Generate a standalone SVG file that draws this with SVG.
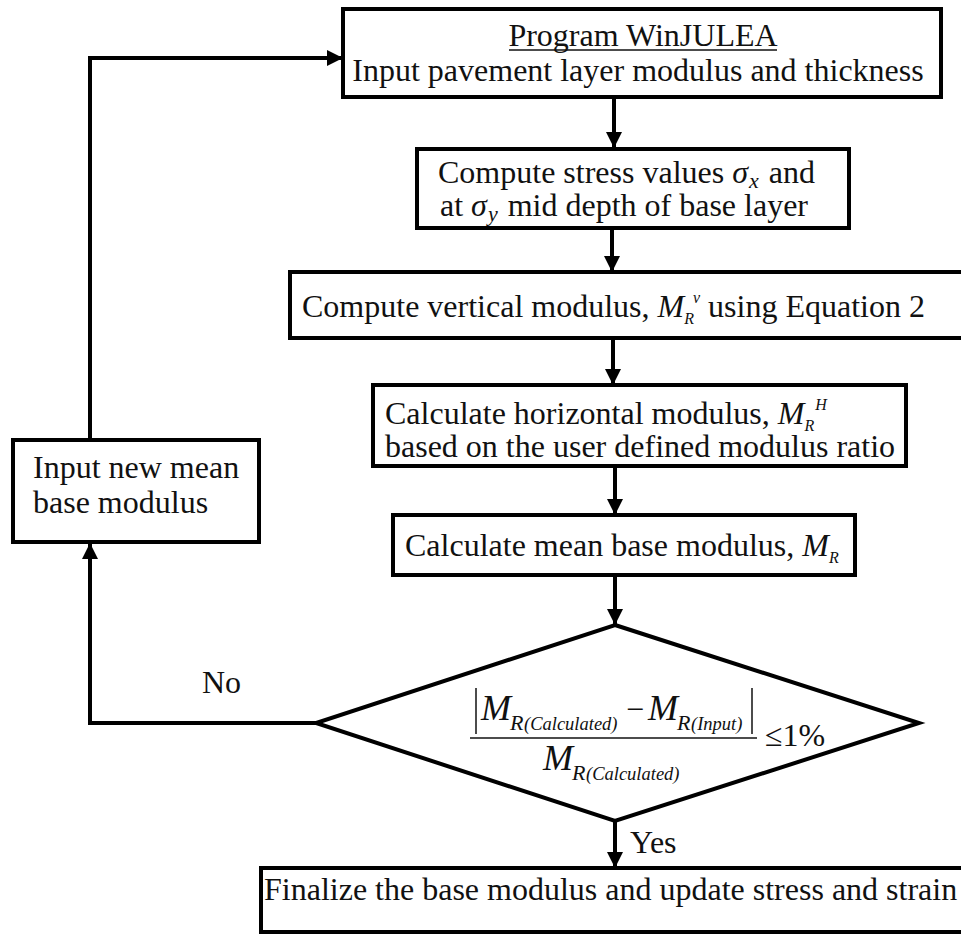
<svg xmlns="http://www.w3.org/2000/svg" width="961" height="935" viewBox="0 0 961 935" font-family="'Liberation Serif', 'Times New Roman', serif">
  <style>
    .box { fill: #fff; stroke: #000; stroke-width: 4; }
    .wire { fill: none; stroke: #000; stroke-width: 4; }
    .rule { stroke: #111; stroke-width: 1.5; }
    text { font-family: "Liberation Serif", "Times New Roman", serif; font-size: 32px; fill: #111; }
    .c { text-anchor: middle; }
    .m { font-style: italic; }
    .big { font-size: 36px; font-style: italic; }
    .sub { font-size: 22px; font-style: italic; }
    .r { font-size: 22px; font-style: italic; }
    .tag { font-size: 18.5px; font-style: italic; }
    .sm { font-size: 16px; font-style: italic; }
  </style>
  <defs>
    <marker id="arrow" viewBox="0 0 10 10" refX="10" refY="5" markerWidth="4" markerHeight="4" markerUnits="strokeWidth" orient="auto">
      <path d="M0,0 L10,5 L0,10 z" fill="#000"/>
    </marker>
  </defs>

  <rect width="961" height="935" fill="#fff"/>

  <g id="connectors">
    <line class="wire" x1="614" y1="97" x2="614" y2="148" marker-end="url(#arrow)"/>
    <line class="wire" x1="612" y1="228" x2="612" y2="272" marker-end="url(#arrow)"/>
    <line class="wire" x1="613" y1="338" x2="613" y2="385" marker-end="url(#arrow)"/>
    <line class="wire" x1="615" y1="466" x2="615" y2="515" marker-end="url(#arrow)"/>
    <line class="wire" x1="615" y1="575" x2="615" y2="625" marker-end="url(#arrow)"/>
    <line class="wire" x1="615" y1="821" x2="615" y2="868" marker-end="url(#arrow)"/>
    <polyline class="wire" points="316,723 90,723 90,543" marker-end="url(#arrow)"/>
    <polyline class="wire" points="90,440 90,58 343,58" marker-end="url(#arrow)"/>
    <text x="202" y="693">No</text>
    <text x="630" y="853">Yes</text>
  </g>

  <g id="program-winjulea">
    <rect class="box" x="343" y="9" width="598" height="88"/>
    <text class="c" x="643" y="46">Program WinJULEA</text>
    <line class="rule" x1="509" y1="50" x2="777" y2="50"/>
    <text class="c" x="638" y="81">Input pavement layer modulus and thickness</text>
  </g>

  <g id="compute-stress">
    <rect class="box" x="417" y="149" width="432" height="79"/>
    <text x="438" y="183">Compute stress values <tspan class="m">σ</tspan><tspan class="sub" dy="5" dx="1">x</tspan><tspan dy="-5" dx="2"> and</tspan></text>
    <text x="440" y="216">at <tspan class="m">σ</tspan><tspan class="sub" dy="5" dx="1">y</tspan><tspan dy="-5" dx="2"> mid depth of base layer</tspan></text>
  </g>

  <g id="vertical-modulus">
    <rect class="box" x="290" y="272" width="690" height="66"/>
    <text x="302" y="317">Compute vertical modulus, <tspan class="m">M</tspan><tspan class="sm" dy="7">R</tspan><tspan class="sm" dy="-21" dx="-1">v</tspan><tspan dy="14"> using Equation 2</tspan></text>
  </g>

  <g id="horizontal-modulus">
    <rect class="box" x="373" y="385" width="533" height="81"/>
    <text x="385" y="424">Calculate horizontal modulus,  <tspan class="m">M</tspan><tspan class="sm" dy="7">R</tspan><tspan class="sm" dy="-21" dx="1">H</tspan></text>
    <text x="385" y="457">based on the user defined modulus ratio</text>
  </g>

  <g id="mean-modulus">
    <rect class="box" x="393" y="515" width="462" height="60"/>
    <text x="405" y="556">Calculate mean base modulus, <tspan class="m">M</tspan><tspan class="sm" dy="7">R</tspan></text>
  </g>

  <g id="convergence-check">
    <polygon class="box" points="615,625 919,723 615,821 316,723"/>
    <line class="rule" x1="476" y1="688" x2="476" y2="734"/>
    <text x="481" y="720" class="big">M</text>
    <text x="510" y="730" class="r">R</text>
    <text x="524" y="730" class="tag">(Calculated)</text>
    <text x="626" y="720">−</text>
    <text x="648" y="720" class="big">M</text>
    <text x="677" y="730" class="r">R</text>
    <text x="691" y="730" class="tag">(Input)</text>
    <line class="rule" x1="752" y1="688" x2="752" y2="734"/>
    <line class="rule" x1="470" y1="738" x2="757" y2="738"/>
    <text x="543" y="770" class="big">M</text>
    <text x="572" y="780" class="r">R</text>
    <text x="586" y="780" class="tag">(Calculated)</text>
    <text x="765" y="746">≤1%</text>
  </g>

  <g id="new-mean-modulus">
    <rect class="box" x="13" y="440" width="246" height="102"/>
    <text x="33" y="478">Input new mean</text>
    <text x="33" y="513">base modulus</text>
  </g>

  <g id="finalize">
    <rect class="box" x="261" y="868" width="720" height="64"/>
    <text x="264" y="900">Finalize the base modulus and update stress and strain</text>
  </g>
</svg>
